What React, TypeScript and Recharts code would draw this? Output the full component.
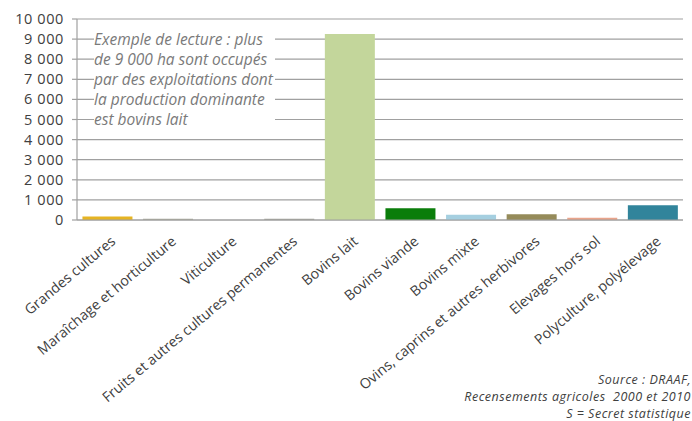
import { BarChart, Bar, XAxis, YAxis, CartesianGrid, Cell } from 'recharts';

// Surfaces (ha) by dominant production
const categories = [
  'Grandes cultures',
  'Maraîchage et horticulture',
  'Viticulture',
  'Fruits et autres cultures permanentes',
  'Bovins lait',
  'Bovins viande',
  'Bovins mixte',
  'Ovins, caprins et autres herbivores',
  'Elevages hors sol',
  'Polyculture, polyélevage',
];
const surfaces = [180, 60, 0, 60, 9250, 580, 260, 280, 110, 730];
const barColors = [
  '#e6b422', '#a8a89a', '#8a6d9a', '#a3a39a', '#c3d69b',
  '#0a7d0a', '#a5cfe0', '#958b5a', '#e9a48b', '#31849b',
];
const yTicks = [0, 1000, 2000, 3000, 4000, 5000, 6000, 7000, 8000, 9000, 10000];
const noteLines = [
  'Exemple de lecture : plus',
  'de 9 000 ha sont occupés',
  'par des exploitations dont',
  'la production dominante',
  'est bovins lait',
];
const sourceLines = [
  'Source : DRAAF,',
  'Recensements agricoles  2000 et 2010',
  'S = Secret statistique',
];

const chartData = categories.map((name, i) => ({ name, value: surfaces[i], fill: barColors[i] }));

const fmt = (v: number) => String(v).replace(/\B(?=(\d{3})+(?!\d))/g, ' ');

const font = '"Open Sans", sans-serif';

function CategoryTick(props: any) {
  const { x, y, payload } = props;
  const tx = x + 6;
  const ty = y + 13;
  return (
    <text
      x={tx}
      y={ty}
      dy="0.35em"
      textAnchor="end"
      transform={`rotate(-40, ${tx}, ${ty})`}
      fontSize={14.2}
      fontFamily={font}
      fill="#404040"
    >
      {payload.value}
    </text>
  );
}

function ValueTick(props: any) {
  const { x, y, payload } = props;
  return (
    <text x={x} y={y} dy="0.35em" textAnchor="end" fontSize={14.5} letterSpacing={0.6} fontFamily={font} fill="#404040">
      {fmt(payload.value)}
    </text>
  );
}

export default function App() {
  return (
    <div style={{ position: 'absolute', left: 0, top: 0, width: 692, height: 421, background: '#fff', overflow: 'hidden' }}>
      <BarChart
        width={692}
        height={421}
        data={chartData}
        margin={{ top: 19, right: 9, left: 0, bottom: 1 }}
        barCategoryGap="9%"
      >
        <CartesianGrid vertical={false} stroke="#a0a0a0" strokeWidth={1.2} />
        <XAxis
          dataKey="name"
          interval={0}
          height={200}
          tickLine={false}
          tickMargin={0}
          axisLine={{ stroke: '#a0a0a0', strokeWidth: 1.2 }}
          tick={<CategoryTick />}
        />
        <YAxis
          width={77}
          domain={[0, 10000]}
          ticks={yTicks}
          interval={0}
          tickSize={5}
          tickMargin={8}
          axisLine={{ stroke: '#a0a0a0', strokeWidth: 1.2 }}
          tickLine={{ stroke: '#a0a0a0', strokeWidth: 1.2 }}
          tick={<ValueTick />}
        />
        <Bar dataKey="value" isAnimationActive={false}>
          {chartData.map((entry, index) => (
            <Cell key={`cell-${index}`} fill={entry.fill} />
          ))}
        </Bar>
      </BarChart>
      <div
        style={{
          position: 'absolute',
          left: 94,
          top: 29,
          paddingRight: 2,
          background: '#fff',
          fontFamily: font,
          fontStyle: 'italic',
          fontSize: 15.5,
          lineHeight: '20px',
          color: '#7a7a7a',
          whiteSpace: 'nowrap',
        }}
      >
        {noteLines.map((l) => (
          <div key={l}>{l}</div>
        ))}
      </div>
      <div
        style={{
          position: 'absolute',
          right: 1,
          top: 371,
          textAlign: 'right',
          fontFamily: font,
          fontStyle: 'italic',
          fontSize: 12.5,
          letterSpacing: 0.5,
          lineHeight: '17px',
          color: '#404040',
          whiteSpace: 'pre',
        }}
      >
        {sourceLines.map((l) => (
          <div key={l}>{l}</div>
        ))}
      </div>
    </div>
  );
}
